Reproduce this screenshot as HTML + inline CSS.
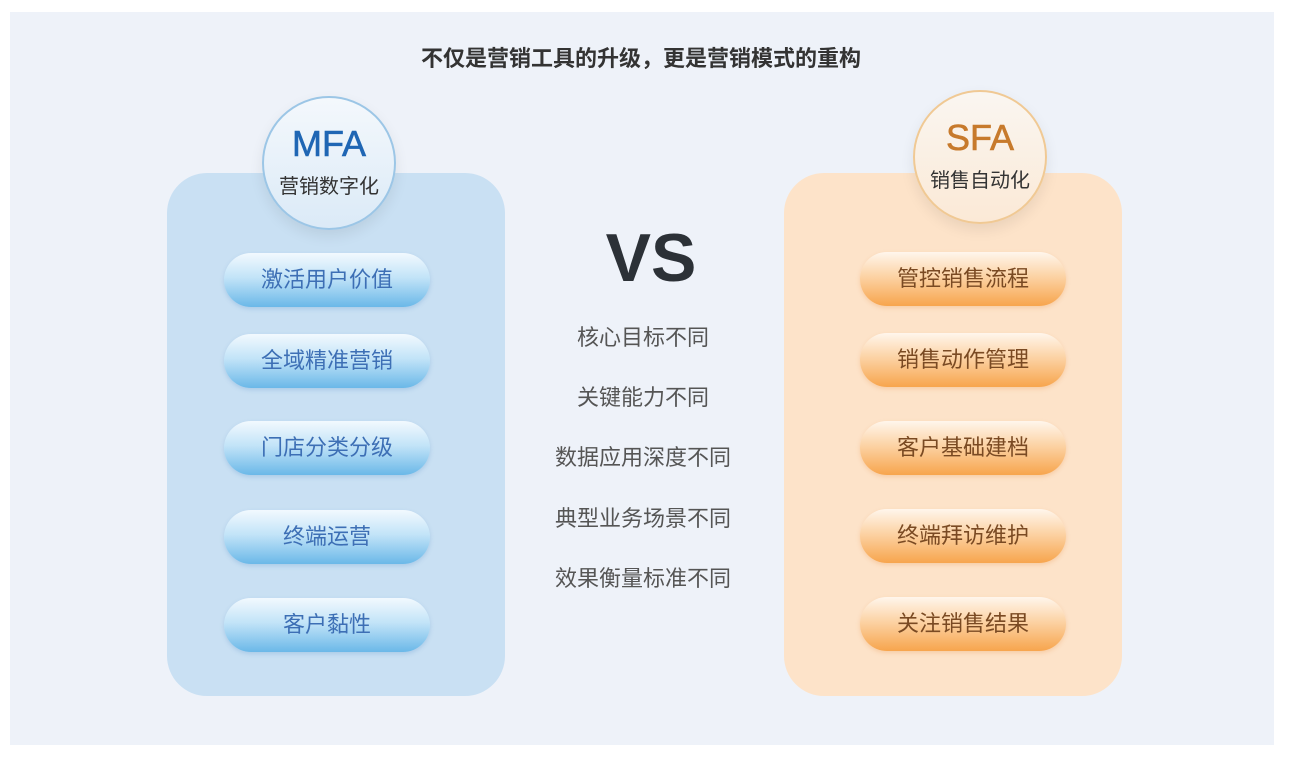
<!DOCTYPE html>
<html><head><meta charset="utf-8"><style>
body{margin:0;width:1292px;height:758px;background:#fff;position:relative;overflow:hidden;font-family:"Liberation Sans","Noto Sans CJK SC",sans-serif}
.bg{position:absolute;left:10px;top:12px;width:1264px;height:733px;background:#eef2f9}
.t{position:absolute;left:0;width:1282px;text-align:center}
.card{position:absolute;top:173px;width:338px;height:523px;border-radius:40px}
.circ{position:absolute;width:130px;height:130px;border-radius:50%;text-align:center;box-shadow:0 6px 14px rgba(0,0,0,.08)}
.circ b{display:block;font-weight:normal;font-size:36px;margin-top:26px;line-height:40px;-webkit-text-stroke:.6px currentColor}
.circ span{display:block;font-size:20px;color:#333;margin-top:6px}
.pill{position:absolute;width:206px;height:54px;border-radius:27px;text-align:center;line-height:54px;font-size:22px}
.lp{left:224px;background:linear-gradient(#f2f9fe 0%,#c3e4f8 45%,#6ab8e8 100%);color:#3d6fb5;box-shadow:0 2px 4px rgba(80,140,200,.25)}
.rp{left:860px;background:linear-gradient(#fff6ec 0%,#fcd3a5 45%,#f7a54d 100%);color:#7a4a23;box-shadow:0 2px 4px rgba(230,140,60,.25)}
.m{position:absolute;left:493px;width:300px;text-align:center;font-size:22px;color:#555}
</style></head><body>
<div class="bg"></div>
<div class="t" style="top:41px;font-size:22px;font-weight:bold;color:#333">不仅是营销工具的升级，更是营销模式的重构</div>
<div class="card" style="left:167px;background:#c9e0f3"></div>
<div class="card" style="left:784px;background:#fde3c9"></div>
<div class="circ" style="left:262px;top:96px;background:linear-gradient(#f4f8fc,#dbeaf7);border:2px solid #9cc6e6"><b style="color:#1f66b4">MFA</b><span>营销数字化</span></div>
<div class="circ" style="left:913px;top:90px;background:linear-gradient(#faf6f1,#fbe9d6);border:2px solid #f0c994"><b style="color:#c77a2c">SFA</b><span>销售自动化</span></div>
<div class="pill lp" style="top:253px">激活用户价值</div>
<div class="pill lp" style="top:334px">全域精准营销</div>
<div class="pill lp" style="top:421px">门店分类分级</div>
<div class="pill lp" style="top:510px">终端运营</div>
<div class="pill lp" style="top:598px">客户黏性</div>
<div class="pill rp" style="top:252px">管控销售流程</div>
<div class="pill rp" style="top:333px">销售动作管理</div>
<div class="pill rp" style="top:421px">客户基础建档</div>
<div class="pill rp" style="top:509px">终端拜访维护</div>
<div class="pill rp" style="top:597px">关注销售结果</div>
<div class="m" style="left:501px;top:215px;font-size:68px;font-weight:bold;color:#2c3137;line-height:86px">VS</div>
<div class="m" style="top:320px">核心目标不同</div>
<div class="m" style="top:380px">关键能力不同</div>
<div class="m" style="top:440px">数据应用深度不同</div>
<div class="m" style="top:501px">典型业务场景不同</div>
<div class="m" style="top:561px">效果衡量标准不同</div>
</body></html>
